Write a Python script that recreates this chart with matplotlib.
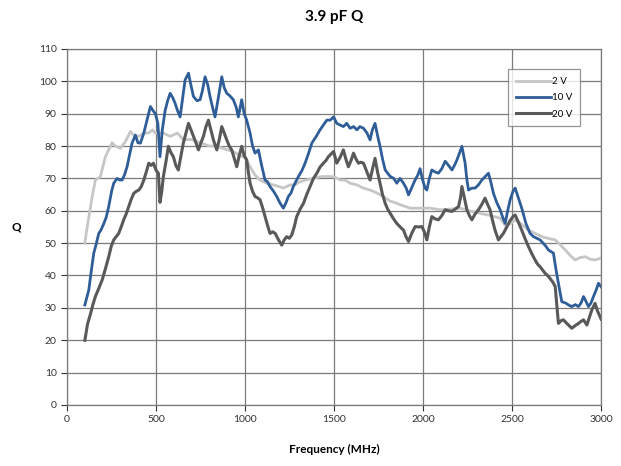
import matplotlib
matplotlib.use('Agg')
import matplotlib.pyplot as plt

plt.rcParams['font.family'] = ['Lato', 'DejaVu Sans']

# 2 V
f_2v = [100, 110, 122, 140, 159, 187, 215, 235, 253, 271, 300, 328, 356, 380, 403, 430, 459, 480,
        496, 541, 579, 620, 653, 700, 747, 800, 841, 890, 934, 972, 1000, 1028, 1056, 1084, 1120,
        1159, 1190, 1215, 1253, 1280, 1309, 1340, 1384, 1420, 1459, 1500, 1534, 1560, 1590, 1628,
        1665, 1702, 1740, 1777, 1815, 1852, 1890, 1927, 1983, 2039, 2096, 2150, 2208, 2260, 2320,
        2380, 2433, 2461, 2490, 2517, 2550, 2592, 2630, 2667, 2700, 2742, 2770, 2798, 2830, 2854,
        2880, 2910, 2940, 2966, 3000]
q_2v = [50, 54, 58, 64, 69.5, 70.5, 76.7, 79, 81, 80, 79.3, 81.4, 84.5, 83, 83, 84, 84, 85,
        84, 84, 83, 84, 82, 82, 81, 80, 80, 79, 78.3, 77, 76.5, 73.6, 71, 69.5, 68.5,
        68, 67.5, 67, 68, 68, 69, 69.5, 70, 70.5, 70.6, 70.5, 69.5, 69.5, 68.5, 68,
        67, 66.4, 65.5, 64.4, 63, 62.3, 61.5, 60.8, 60.8, 60.8, 60.3, 60.5, 60.8, 60, 59.2,
        58.5, 57.7, 55.5, 56, 57.2, 56, 54, 53, 52, 51.5, 51, 49.5, 47.9, 46, 44.8,
        45.5, 45.8, 45, 44.8, 45.4]

# 10 V
f_10v = [100, 122, 135, 150, 165, 178, 190, 206, 220, 234, 250, 262, 281, 295, 309, 322, 337, 350,
         365, 384, 398, 412, 431, 449, 468, 482, 496, 510, 522, 535, 551, 565, 579, 593, 607, 620,
         635, 650, 663, 682, 695, 710, 730, 747, 760, 775, 790, 803, 817, 831, 850, 869, 883, 897,
         915, 934, 950, 962, 981, 995, 1009, 1028, 1042, 1056, 1075, 1093, 1112, 1125, 1140, 1160,
         1178, 1195, 1215, 1230, 1243, 1258, 1271, 1285, 1300, 1320, 1337, 1355, 1375, 1400, 1421,
         1440, 1459, 1478, 1497, 1515, 1534, 1552, 1571, 1590, 1610, 1628, 1645, 1665, 1685, 1702,
         1715, 1730, 1745, 1758, 1772, 1787, 1815, 1835, 1852, 1870, 1890, 1905, 1918, 1935, 1955,
         1970, 1983, 1995, 2011, 2021, 2035, 2049, 2067, 2086, 2105, 2124, 2143, 2162, 2176, 2190,
         2205, 2218, 2236, 2245, 2255, 2274, 2292, 2311, 2330, 2348, 2367, 2380, 2395, 2414, 2433,
         2447, 2461, 2475, 2489, 2505, 2517, 2535, 2554, 2578, 2601, 2620, 2638, 2657, 2676, 2690,
         2704, 2732, 2746, 2760, 2779, 2800, 2820, 2835, 2855, 2873, 2887, 2901, 2915, 2929, 2943,
         2957, 2972, 2985, 3000]
q_10v = [30.9, 35.5, 41, 46.9, 50, 53, 54, 56, 58, 61.3, 66, 68.5, 70, 69.5, 69.5, 71, 73.6, 77,
         80.9, 83.4, 81, 80.9, 84, 88, 92.2, 91, 90, 87, 76.7, 85, 91, 94, 96.3, 95, 93.2, 91,
         89, 95, 100.4, 102.5, 99, 95.3, 94, 94.3, 97, 101.4, 99, 95.3, 92, 89, 95, 101.4, 98, 96.3,
         95.5, 94.3, 92, 89, 94.3, 90, 88, 84, 80, 77.8, 78.8, 74, 69.5, 69, 67.5, 66,
         64.4, 62.5, 60.8, 62.5, 64.4, 65.5, 67.5, 69, 70.6, 72.5, 74.7, 77.5, 80.9, 83, 85,
         86.5, 88, 88, 89, 87, 86.5, 86, 87, 85.5, 86, 85, 86, 85.5, 84, 81.9,
         85, 87, 83, 79.9, 76, 72.6, 70.6, 70, 68.5, 70, 68.5, 67, 64.9, 67, 69.5,
         71, 73, 70, 67, 66.4, 70, 72.6, 72, 71.6, 73, 75.3, 74, 72.6, 74, 75.7,
         78, 79.9, 74.7, 70, 66.4, 67, 67, 68, 69.5, 70.5, 71.6, 69, 65.4, 62.5, 60.3,
         58, 56.1, 60, 63.4, 66, 67, 64, 60.8, 56, 53, 52, 51.5, 51, 49.9, 49,
         47.9, 46.9, 42, 37.6, 31.9, 31.5, 30.8, 30.4, 31, 30.4, 31.5, 33.5, 32, 30.4, 31.5,
         33.5, 35.5, 37.6, 36.5]

# 20 V
f_20v = [100, 115, 131, 145, 159, 178, 197, 215, 234, 248, 262, 276, 290, 304, 318, 332, 346, 360,
         375, 389, 403, 417, 431, 445, 459, 472, 485, 500, 513, 522, 532, 541, 555, 569, 583, 597,
         611, 625, 640, 653, 668, 682, 696, 710, 724, 738, 752, 766, 780, 794, 808, 822, 841, 855,
         869, 883, 897, 911, 925, 940, 953, 967, 981, 995, 1009, 1018, 1028, 1042, 1056, 1070, 1084,
         1098, 1112, 1126, 1140, 1155, 1169, 1188, 1206, 1220, 1234, 1248, 1262, 1276, 1290, 1309,
         1328, 1346, 1365, 1384, 1403, 1421, 1440, 1454, 1468, 1482, 1497, 1515, 1534, 1552, 1566,
         1580, 1595, 1609, 1623, 1637, 1651, 1665, 1684, 1702, 1716, 1730, 1744, 1758, 1772, 1787,
         1801, 1815, 1834, 1852, 1871, 1890, 1904, 1918, 1936, 1955, 1974, 1993, 2007, 2021, 2035,
         2049, 2067, 2086, 2105, 2124, 2143, 2162, 2180, 2199, 2210, 2218, 2232, 2246, 2260, 2274,
         2292, 2311, 2330, 2348, 2362, 2376, 2390, 2404, 2423, 2437, 2451, 2470, 2489, 2505, 2517,
         2535, 2554, 2572, 2592, 2610, 2629, 2643, 2657, 2671, 2685, 2699, 2713, 2728, 2742, 2751,
         2760, 2774, 2788, 2811, 2835, 2854, 2873, 2887, 2901, 2920, 2934, 2948, 2966, 2980, 3000]
q_20v = [20, 25, 28, 31, 33.5, 36, 38.6, 42, 45.8, 49, 51, 52, 53, 55, 57.2, 59, 61.3, 63.5,
         65.4, 66, 66.4, 67.5, 69.5, 72, 74.7, 74, 74.7, 72.5, 71.6, 62.6, 66, 70.6, 75, 79.9, 78, 76.7,
         74, 72.6, 77, 80.9, 84, 87, 85, 83, 81, 78.8, 81, 83, 86, 88, 85, 81.9, 78.8, 82,
         86, 84, 81.9, 80, 78.8, 76, 73.6, 77, 79.9, 77, 75.7, 72, 68.5, 66, 64.4, 64, 63.4,
         61, 58.2, 55.5, 53, 53.5, 53, 51, 49.4, 51, 52, 51.5, 52.5, 55, 58.2, 60.5,
         62.3, 65, 67.5, 70, 71.6, 73.5, 74.7, 75.5, 76.7, 77.5, 78.3, 74.7, 76.5, 78.8, 76,
         73.6, 75.5, 77.8, 76, 74.7, 75, 74.7, 72, 69.5, 73, 76.2, 72, 68.5, 65, 62.3,
         60.5, 59.2, 57.5, 56.1, 55, 54, 52, 50.5, 53, 55.1, 55, 55.1, 53.5, 51, 55,
         58.2, 57.5, 57.2, 58.5, 60.3, 60, 59.8, 60.5, 61.3, 64, 67.5, 64, 60.3, 58.5, 57.2,
         59, 60.3, 62, 63.9, 62, 60.3, 57, 54, 51, 52, 53, 55, 57, 58.2, 58.7,
         56.5, 54, 51.5, 48.9, 46.8, 44.8, 43.5, 42.7, 41.7, 40.7, 40, 39.1, 38, 36.6, 31,
         25.2, 26, 26.3, 25, 23.7, 24.5, 25.2, 25.8, 26.3, 24.7, 27, 29.4, 31.4, 29, 26.5]

x_ticks = [0, 500, 1000, 1500, 2000, 2500, 3000]
y_ticks = list(range(0, 111, 10))

fig = plt.figure(figsize=(6.21, 4.66), dpi=100)
ax = fig.add_axes([0.108, 0.131, 0.860, 0.764])

ax.plot(f_2v, q_2v, color='#c6c6c6', linewidth=2.0, label='2 V')
ax.plot(f_10v, q_10v, color='#2f5d98', linewidth=2.0, label='10 V')
ax.plot(f_20v, q_20v, color='#595959', linewidth=2.2, label='20 V')

ax.set_xlim(0, 3000)
ax.set_ylim(0, 110)
ax.set_xticks(x_ticks)
ax.set_yticks(y_ticks)
ax.grid(True, color='#7a7a7a', linewidth=0.9)
ax.set_axisbelow(True)
for s in ax.spines.values():
    s.set_color('#7a7a7a')
    s.set_linewidth(0.9)
ax.tick_params(axis='both', labelsize=7.5, colors='#333333', length=4, width=0.8, direction='out')

ax.set_title('3.9 pF Q', fontsize=11, fontweight='bold', pad=20)
ax.set_xlabel('Frequency (MHz)', fontsize=8.5, fontweight='bold', labelpad=14)
ax.set_ylabel('Q', fontsize=8.5, fontweight='bold', rotation=0, labelpad=16, va='center')

leg = ax.legend(loc='upper right', bbox_to_anchor=(0.96, 0.943), fontsize=7, frameon=True,
                fancybox=False, edgecolor='#7a7a7a', handlelength=3.6, handletextpad=0.1,
                borderpad=0.8, labelspacing=0.75, borderaxespad=0)
leg.get_frame().set_linewidth(0.9)

fig.savefig('out.png', dpi=100)
